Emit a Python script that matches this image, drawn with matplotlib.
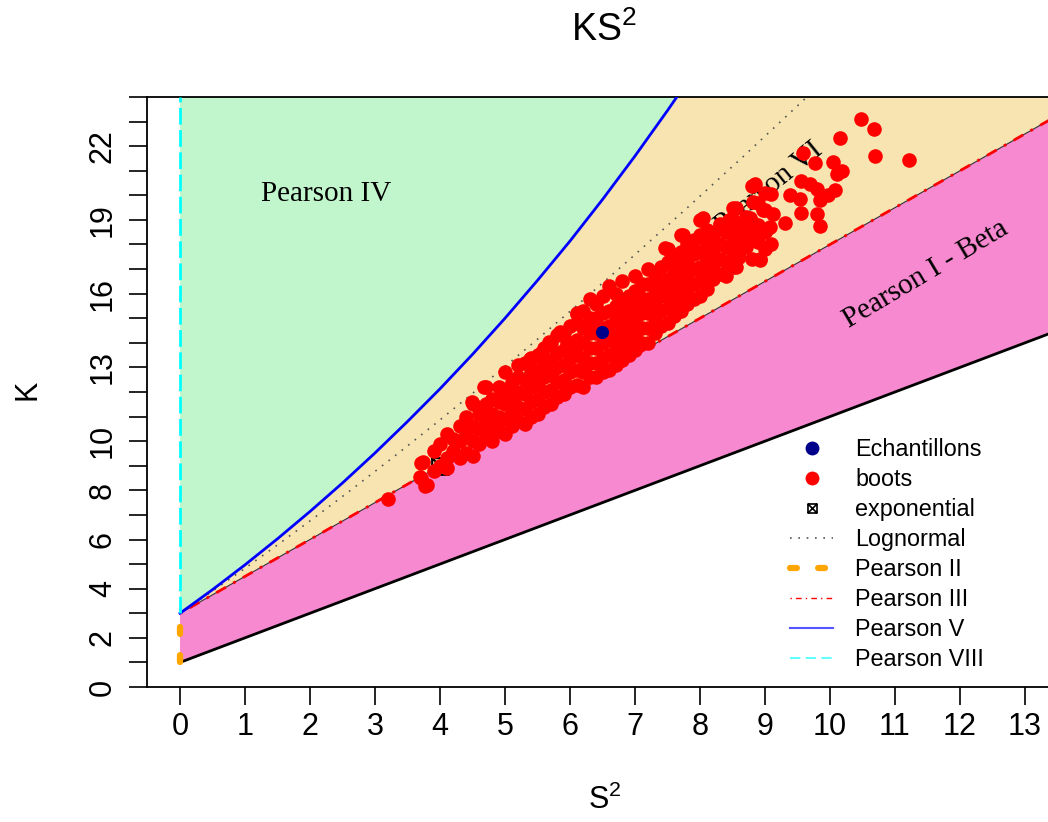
import matplotlib
matplotlib.use("Agg")
import matplotlib.pyplot as plt
from matplotlib.lines import Line2D
from matplotlib.path import Path
from matplotlib.legend_handler import HandlerLine2D

plt.rcParams.update({
    "font.family": ["Liberation Sans", "DejaVu Sans"],
    "mathtext.fontset": "custom",
    "mathtext.rm": "Liberation Sans",
    "mathtext.it": "Liberation Sans",
})

# ---- data (S^2 = squared skewness, K = kurtosis) ----
# Pearson V boundary curve
pv_s2 = [0, 0.5, 1, 1.5, 2, 2.5, 3, 3.5, 4, 4.5, 5, 5.5, 6, 6.5, 7, 7.5, 7.75]
pv_k = [3.0, 3.96, 4.97, 6.03, 7.14, 8.30, 9.52, 10.80, 12.13, 13.53, 15.0,
        16.54, 18.14, 19.83, 21.60, 23.45, 24.41]
# Lognormal line
ln_s2 = [0, 0.465, 0.961, 1.488, 2.048, 2.641, 3.267, 3.928, 4.624, 5.356,
         6.125, 6.931, 7.776, 8.660, 9.583, 9.773]
ln_k = [3.0, 3.838, 4.756, 5.758, 6.850, 8.035, 9.320, 10.710, 12.210, 13.825,
        15.563, 17.427, 19.426, 21.564, 23.848, 24.323]
# Pearson III line and lower limit (Pearson I border)
p3_s2 = [0, 14]
p3_k = [3, 24]
low_s2 = [0, 14]
low_k = [1, 15]
# Pearson II and VIII on the K axis
p2_s2 = [0, 0]
p2_k = [1, 3]
p8_s2 = [0, 0]
p8_k = [3, 24]

# observed sample and exponential reference
ech_s2 = [6.49]
ech_k = [14.44]
exp_s2 = [4.0]
exp_k = [9.0]

# bootstrap cloud, dense part by column
boot_cols = [3.7, 3.8, 3.9, 4.0, 4.1, 4.2, 4.3, 4.4, 4.5, 4.6, 4.7, 4.8, 4.9,
             5.0, 5.1, 5.2, 5.3, 5.4, 5.5, 5.6, 5.7, 5.8, 5.9, 6.0, 6.1, 6.2,
             6.3, 6.4, 6.5, 6.6, 6.7, 6.8, 6.9, 7.0, 7.1, 7.2, 7.3, 7.4, 7.5,
             7.6, 7.7, 7.8, 7.9, 8.0, 8.1, 8.2, 8.3, 8.4, 8.5, 8.6, 8.7, 8.8,
             8.9, 9.0]
boot_col_k = [
    [8.5, 9.1], [8.2], [9.6, 8.8], [9.0, 9.9], [10.3, 9.3, 8.9], [9.6, 10.1],
    [9.3, 10.0, 10.6], [9.5, 10.3, 11.0], [9.4, 10.0, 10.6, 11.5],
    [9.9, 10.5, 11.1], [10.2, 10.8, 11.5, 12.2], [10.0, 10.5, 11.1, 11.7],
    [10.4, 11.0, 11.6, 12.2], [10.3, 10.9, 11.5, 12.1, 12.8],
    [10.6, 11.2, 11.8, 12.4], [10.8, 11.4, 12.0, 12.6, 13.1],
    [10.7, 11.3, 11.9, 12.5, 13.2], [11.0, 11.6, 12.2, 12.8, 13.4],
    [11.1, 11.7, 12.3, 12.9, 13.5], [11.4, 12.0, 12.6, 13.2, 13.8],
    [11.5, 12.1, 12.7, 13.3, 14.0], [11.8, 12.4, 13.0, 13.6, 14.3],
    [11.9, 12.5, 13.1, 13.7, 14.4], [12.2, 12.8, 13.4, 14.0, 14.7],
    [12.3, 12.9, 13.5, 14.1, 14.8, 15.2], [12.2, 12.8, 13.4, 14.0, 14.6, 15.3],
    [12.6, 13.2, 13.8, 14.4, 15.0, 15.8], [12.6, 13.2, 13.8, 14.4, 15.0, 15.6],
    [12.8, 13.4, 14.0, 14.6, 15.2, 15.9], [12.9, 13.5, 14.1, 14.7, 15.3, 16.3],
    [13.1, 13.7, 14.3, 14.9, 15.5, 16.0], [13.3, 13.9, 14.5, 15.1, 15.7, 16.5],
    [13.5, 14.1, 14.7, 15.3, 15.9], [13.7, 14.3, 14.9, 15.5, 16.1, 16.7],
    [14.0, 14.6, 15.2, 15.8, 16.4], [14.0, 14.6, 15.2, 15.8, 16.4, 17.0],
    [14.4, 15.0, 15.6, 16.2, 16.8], [14.7, 15.3, 15.9, 16.5, 17.1],
    [14.8, 15.4, 16.0, 16.6, 17.3, 17.8], [15.1, 15.7, 16.3, 16.9, 17.5],
    [15.3, 15.9, 16.5, 17.1, 17.7, 18.4], [15.6, 16.2, 16.8, 17.4, 18.0],
    [15.8, 16.4, 17.0, 17.6, 18.2], [15.9, 16.5, 17.1, 17.7, 18.4, 19.0],
    [16.2, 16.8, 17.4, 18.0, 18.6], [16.6, 17.2, 17.8, 18.4],
    [16.8, 17.4, 18.0, 18.8], [16.7, 17.3, 17.9, 18.5],
    [17.1, 17.7, 18.3, 19.0, 19.5], [17.5, 18.1, 18.7], [17.9, 18.5, 19.1],
    [17.4, 18.3, 18.9, 20.4], [18.1, 18.8, 19.7], [17.8, 18.5, 19.4, 20.1],
]
# bootstrap cloud, scattered points
boot_s2 = [3.20, 10.47, 10.68, 10.16, 10.70, 11.21, 9.58, 9.77, 10.04, 10.19,
           10.11, 9.56, 9.70, 9.80, 10.08, 9.97, 8.84, 9.10, 9.38, 9.54, 9.85,
           9.56, 9.80, 9.85, 9.31, 9.10, 8.56, 8.82, 8.97, 9.13, 9.03, 8.72,
           8.44, 8.62, 8.82, 8.93, 8.05, 8.31, 8.51, 9.08, 8.62, 8.77, 7.74,
           7.46, 8.15, 8.56, 8.92, 6.10, 5.85, 5.67, 5.38, 4.49, 4.36, 3.77,
           3.69, 3.74, 4.67, 4.97,
           5.45, 5.75, 6.05, 6.25, 6.55, 6.85, 7.15, 7.45, 7.75, 5.15, 4.85,
           5.55, 5.95, 6.35, 6.75, 7.05]
boot_k = [7.65, 23.09, 22.68, 22.34, 21.61, 21.45, 21.71, 21.33, 21.35, 21.0,
          20.86, 20.58, 20.46, 20.24, 20.21, 20.01, 20.46, 20.05, 20.0, 19.87,
          19.80, 19.29, 19.26, 18.74, 18.88, 18.04, 19.47, 19.73, 19.40, 19.26,
          18.65, 18.99, 18.99, 18.51, 18.31, 17.36, 19.06, 18.85, 18.72, 18.72,
          18.31, 19.06, 18.38, 17.84, 17.90, 17.09, 17.39, 15.19, 14.44, 14.03,
          13.35, 11.59, 10.64, 8.19, 8.53, 9.14, 12.20, 11.92,
          12.55, 12.95, 13.7, 13.1, 14.3, 14.8, 15.5, 16.2, 16.9, 11.5, 10.7,
          13.6, 14.0, 14.9, 15.4, 16.1]

k_ticks = list(range(0, 25))
k_labelled = [0, 2, 4, 6, 8, 10, 13, 16, 19, 22]
s2_ticks = list(range(0, 14))

GREEN = "#C1F6CC"
TAN = "#F8E4B0"
PINK = "#F689D0"

fig = plt.figure(figsize=(10.48, 8.22), dpi=100)
ax = fig.add_axes([147 / 1048, 135 / 822, 901 / 1048, 590 / 822])
ax.set_xlim(-0.508, 13.354)
ax.set_ylim(0, 24)

# regions
ax.fill([0] + pv_s2, [pv_k[-1]] + pv_k, color=GREEN, lw=0, zorder=1)
ax.fill(pv_s2 + p3_s2[::-1], pv_k + [p3_k[-1], p3_k[0]], color=TAN, lw=0, zorder=1)
ax.fill(p3_s2 + low_s2[::-1], p3_k + low_k[::-1], color=PINK, lw=0, zorder=1)

ax.text(2.25, 20.05, "Pearson IV", family="Liberation Serif", fontsize=21,
        ha="center", va="center", zorder=2)
ax.text(9.06, 20.3, "Pearson VI", family="Liberation Serif", fontsize=21,
        ha="center", va="center", rotation=39, rotation_mode="anchor", zorder=2)
ax.text(11.48, 16.8, "Pearson I - Beta", family="Liberation Serif", fontsize=21,
        ha="center", va="center", rotation=30.7, rotation_mode="anchor", zorder=2)

# boundary lines
ax.plot(low_s2, low_k, color="black", lw=2, zorder=3)
ax.plot(p3_s2, p3_k, color="#333333", lw=0.8, zorder=3)
ax.plot(ln_s2, ln_k, color="#555555", lw=1.2, ls=(0, (1, 4)), zorder=3)
ax.plot(p3_s2, p3_k, color="red", lw=2, ls=(0, (1, 3, 4, 3)), zorder=3)
ax.plot(pv_s2, pv_k, color="blue", lw=2, zorder=3)
ax.plot(p2_s2, p2_k, color="#FFA500", lw=4.5, ls=(0, (1.1, 3.4)),
        dash_capstyle="round", zorder=3, clip_on=False)
ax.plot(p8_s2, p8_k, color="cyan", lw=2, ls=(0, (6, 2)), zorder=3)

# boxed-x marker (pch 7)
boxx = Path([(-1, -1), (1, -1), (1, 1), (-1, 1), (-1, -1), (-1, -1), (1, 1),
             (-1, 1), (1, -1)],
            [Path.MOVETO, Path.LINETO, Path.LINETO, Path.LINETO, Path.CLOSEPOLY,
             Path.MOVETO, Path.LINETO, Path.MOVETO, Path.LINETO])
ax.plot(exp_s2, exp_k, ls="none", marker=boxx, ms=12, mfc="none", mec="black",
        mew=1.5, zorder=4)

cloud_s2 = [s for s, ks in zip(boot_cols, boot_col_k) for _ in ks] + boot_s2
cloud_k = [k for ks in boot_col_k for k in ks] + boot_k
ax.plot(cloud_s2, cloud_k, ls="none", marker="o", ms=10.5, mfc="red", mec="red",
        mew=0, zorder=5)
ax.plot(ech_s2, ech_k, ls="none", marker="o", ms=9.5, mfc="#00008B", mec="#00008B",
        mew=0, zorder=6)

# axes styling
for side in ["left", "top", "bottom"]:
    ax.spines[side].set_linewidth(1.3)
ax.spines["right"].set_visible(False)
ax.set_xticks(s2_ticks)
ax.set_xticklabels([str(t) for t in s2_ticks])
ax.set_yticks(k_ticks)
ax.set_yticklabels([str(t) if t in k_labelled else "" for t in k_ticks],
                   rotation=90, va="center")
ax.tick_params(axis="both", direction="out", length=13, width=1.2, labelsize=22)
ax.tick_params(axis="x", pad=5)
ax.tick_params(axis="y", pad=8)

fig.text(604 / 1048, 1 - 30 / 822, r"KS$^{2}$", fontsize=27, ha="center", va="center")
fig.text(605 / 1048, 1 - 800 / 822, r"S$^{2}$", fontsize=22, ha="center", va="center")
fig.text(28 / 1048, 1 - 390 / 822, "K", fontsize=22, ha="center", va="center",
         rotation=90)


class EndMarker(HandlerLine2D):
    def get_xdata(self, legend, xdescent, ydescent, width, height, fontsize):
        return [-xdescent, -xdescent + width], [-xdescent + width]


handles = [
    Line2D([], [], ls="none", marker="o", ms=10, mfc="#00008B", mec="#00008B", mew=0),
    Line2D([], [], ls="none", marker="o", ms=10, mfc="red", mec="red", mew=0),
    Line2D([], [], ls="none", marker=boxx, ms=6.5, mfc="none", mec="black", mew=1.2),
    Line2D([], [], color="#555555", lw=1.2, ls=(0, (1, 4))),
    Line2D([], [], color="#FFA500", lw=4.5, ls=(0, (1.1, 3.4)), dash_capstyle="round"),
    Line2D([], [], color="red", lw=1, ls=(0, (1, 3, 4, 3))),
    Line2D([], [], color="#5555FF", lw=1.5),
    Line2D([], [], color="#66FFFF", lw=1.5, ls=(0, (5, 2.5))),
]
labels = ["Echantillons", "boots", "exponential", "Lognormal", "Pearson II",
          "Pearson III", "Pearson V", "Pearson VIII"]
fig.legend(handles, labels, loc="upper left", bbox_to_anchor=(790 / 1048, 1 - 438 / 822),
           frameon=False, fontsize=16.8, handlelength=1.85, handletextpad=0.95,
           labelspacing=0.3, borderpad=0, borderaxespad=0,
           handler_map={Line2D: EndMarker()})

fig.savefig("out.png", dpi=100)
